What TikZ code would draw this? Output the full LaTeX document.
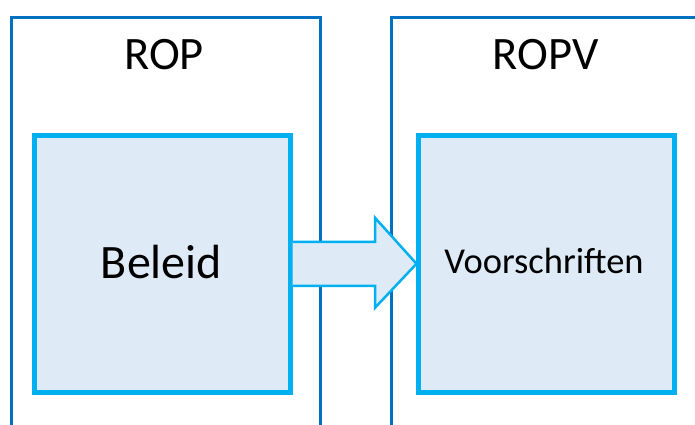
\documentclass[tikz,border=0pt]{standalone}
\usepackage{fontspec}
\setmainfont{Carlito}
\usetikzlibrary{calc}
\definecolor{outerblue}{HTML}{0070C0}
\definecolor{innerblue}{HTML}{00B0F0}
\definecolor{fillblue}{HTML}{DEEBF7}
\begin{document}
\begin{tikzpicture}[x=1pt,y=-1pt,
  outerbox/.style={draw=outerblue,line width=3pt,minimum width=309pt,minimum height=440pt,inner sep=0pt,outer sep=0pt},
  innerbox/.style={draw=innerblue,fill=fillblue,line width=5pt,minimum width=256pt,minimum height=256.5pt,inner sep=0pt,outer sep=0pt},
  titletext/.style={font=\fontsize{46.5}{46.5}\selectfont,anchor=base,inner sep=0pt},
  bigtext/.style={font=\fontsize{48}{48}\selectfont,anchor=base,inner sep=0pt},
  smalltext/.style={font=\fontsize{36.5}{36.5}\selectfont,anchor=base,inner sep=0pt},
  flow/.style={draw=innerblue,fill=fillblue,line width=2.5pt,line join=miter}]
\useasboundingbox (0,0) rectangle (695,424);
\clip (0,0) rectangle (695,424);
\node[outerbox] (rop) at (165.5,237.5) {};
\node[outerbox,minimum width=330pt] (ropv) at (556,237.5) {};
\node[titletext] (ropt) at (164,69) {ROP};
\node[titletext] (ropvt) at (545.5,69) {ROPV};
\node[innerbox] (bel) at (162,263.75) {};
\node[innerbox] (vo) at (546.5,263.75) {};
\node[bigtext] (belt) at (161.5,278) {Beleid};
\node[smalltext] (vot) at (544,273) {Voorschriften};
\draw[flow] ($(bel.east)+(2.5,-22)$) -- ($(bel.east)+(85,-22)$) -- ($(bel.east)+(85,-46)$)
  -- ($(vo.west)+(-2,0)$) -- ($(bel.east)+(85,44)$) -- ($(bel.east)+(85,22)$) -- ($(bel.east)+(2.5,22)$);
\end{tikzpicture}
\end{document}
